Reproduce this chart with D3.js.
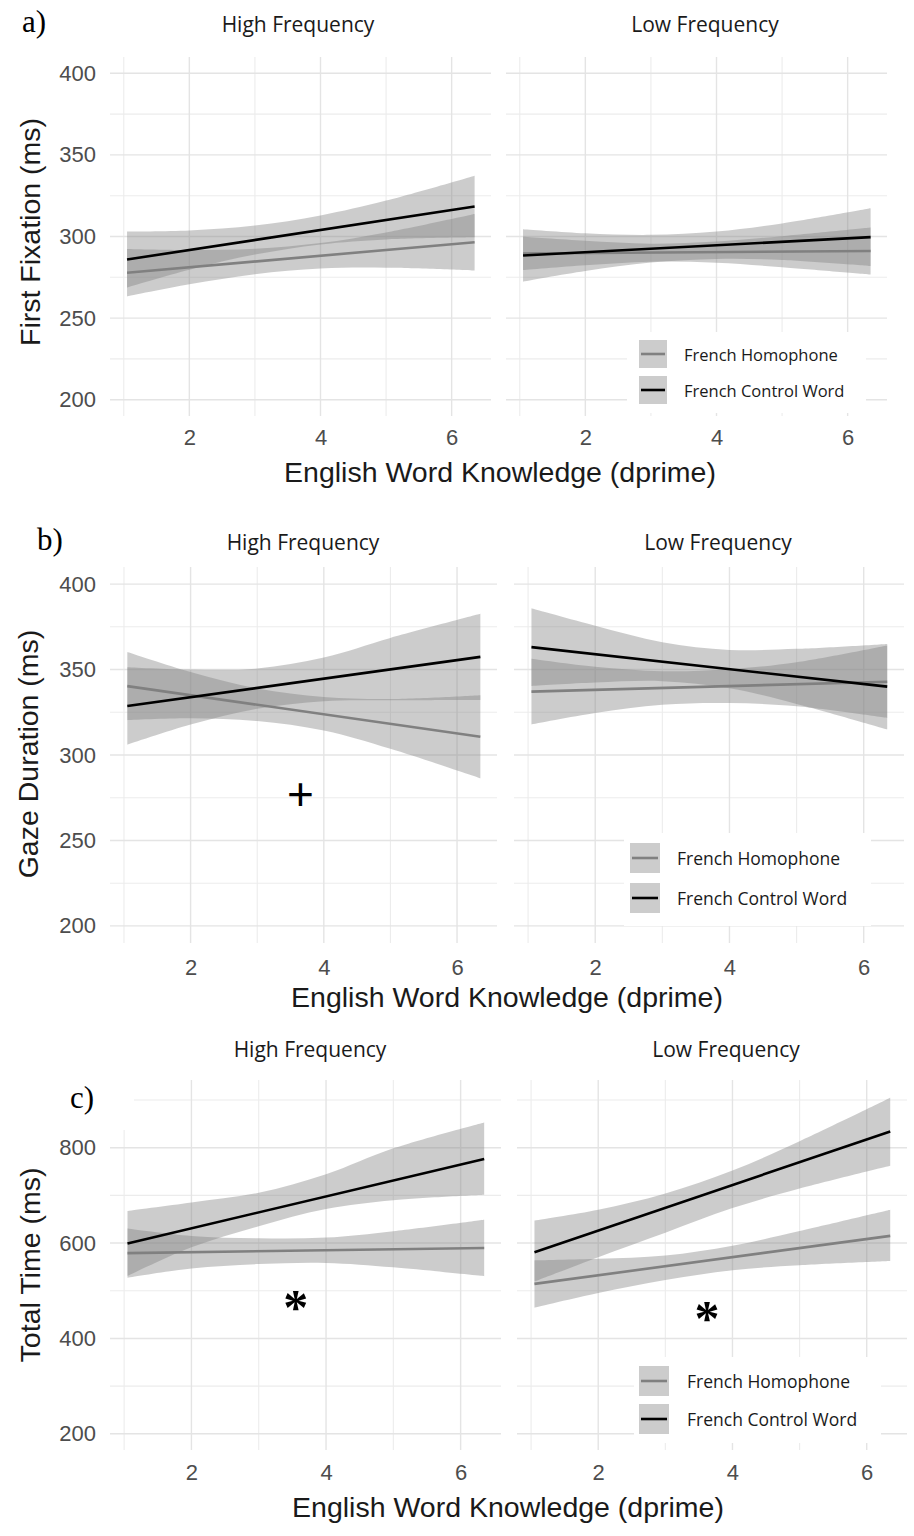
<!DOCTYPE html>
<html>
<head>
<meta charset="utf-8">
<script src="https://cdn.jsdelivr.net/npm/d3@7"></script>
<style>
  html, body { margin: 0; padding: 0; background: #fff; }
  svg { display: block; }
</style>
</head>
<body>
<svg id="fig" width="914" height="1536"></svg>
<script>
// ---- data -------------------------------------------------------------
// fitted lines are drawn between the two ends of the dprime range,
// confidence bands are sampled at a handful of dprime values
const fitX = [1.05, 6.35];
const bandX = [1.05, 2, 3, 4, 5, 6.35];
const facets = ["High Frequency", "Low Frequency"];
const seriesNames = ["French Homophone", "French Control Word"];
const xTickValues = [2, 4, 6];
const xMinorValues = [1, 3, 5];
const msTicks = [200, 250, 300, 350, 400];
const msMinor = [225, 275, 325, 375];
const totalTicks = [200, 400, 600, 800];
const totalMinor = [300, 500, 700, 900];

// a) First fixation
const ffHighHom = [277.8, 296.5];
const ffHighHomLo = [263.3, 270.7, 276.9, 280.4, 280.9, 279.2];
const ffHighHomHi = [292.3, 291.7, 292.5, 296.0, 302.5, 313.8];
const ffHighCtl = [285.9, 318.4];
const ffHighCtlLo = [268.8, 279.7, 288.9, 295.1, 298.2, 299.5];
const ffHighCtlHi = [303.0, 303.7, 306.7, 312.9, 322.0, 337.3];
const ffLowHom = [289.6, 291.1];
const ffLowHomLo = [279.4, 282.4, 284.6, 283.9, 281.2, 276.7];
const ffLowHomHi = [299.8, 297.4, 295.6, 296.9, 300.2, 305.5];
const ffLowCtl = [288.4, 299.6];
const ffLowCtlLo = [272.3, 278.8, 284.0, 286.2, 285.6, 281.9];
const ffLowCtlHi = [304.5, 302.0, 301.0, 303.0, 308.0, 317.3];

// b) Gaze duration
const gdHighHom = [340.3, 310.7];
const gdHighHomLo = [320.4, 321.5, 319.9, 314.3, 303.6, 286.4];
const gdHighHomHi = [360.2, 348.5, 338.9, 334.0, 332.8, 335.0];
const gdHighCtl = [328.7, 357.4];
const gdHighCtlLo = [306.0, 317.8, 327.0, 331.5, 332.0, 332.2];
const gdHighCtlHi = [351.4, 350.0, 350.6, 357.0, 368.5, 382.6];
const gdLowHom = [337.1, 342.9];
const gdLowHomLo = [317.9, 324.6, 329.4, 330.4, 328.5, 321.7];
const gdLowHomHi = [356.3, 351.6, 349.0, 350.2, 354.3, 364.1];
const gdLowCtl = [363.1, 340.0];
const gdLowCtlLo = [340.4, 342.4, 343.2, 339.1, 329.9, 315.0];
const gdLowCtlHi = [385.8, 375.6, 366.0, 361.5, 362.1, 365.0];

// c) Total time
const ttHighHom = [578.9, 589.8];
const ttHighHomLo = [527.2, 546.8, 556.0, 558.4, 549.2, 530.6];
const ttHighHomHi = [630.6, 615.0, 610.0, 611.6, 625.0, 649.0];
const ttHighCtl = [599.3, 776.2];
const ttHighCtlLo = [531.0, 591.2, 635.4, 671.4, 689.8, 701.4];
const ttHighCtlHi = [667.3, 685.0, 705.4, 744.2, 798.6, 853.1];
const ttLowHom = [514.4, 615.1];
const ttLowHomLo = [464.4, 495.2, 522.6, 543.2, 553.4, 562.3];
const ttLowHomHi = [563.7, 567.1, 574.0, 594.5, 625.3, 669.9];
const ttLowCtl = [580.8, 834.2];
const ttLowCtlLo = [519.2, 570.5, 621.9, 673.3, 714.4, 762.3];
const ttLowCtlHi = [647.3, 669.9, 704.1, 752.0, 813.7, 904.8];

// significance marks: [row, facet, dprime, ms, symbol]
const marks = [
  [1, 0, 3.65, 277, "+"],
  [2, 0, 3.55, 466, "*"],
  [2, 1, 3.62, 443, "*"]
];

// ---- figure assembly --------------------------------------------------
const rows = [
  { tag: "a)", yTitle: "First Fixation (ms)", ticks: msTicks, minor: msMinor, domain: [190, 410],
    facets: [[[ffHighHom, ffHighHomLo, ffHighHomHi], [ffHighCtl, ffHighCtlLo, ffHighCtlHi]],
             [[ffLowHom, ffLowHomLo, ffLowHomHi], [ffLowCtl, ffLowCtlLo, ffLowCtlHi]]] },
  { tag: "b)", yTitle: "Gaze Duration (ms)", ticks: msTicks, minor: msMinor, domain: [190, 410],
    facets: [[[gdHighHom, gdHighHomLo, gdHighHomHi], [gdHighCtl, gdHighCtlLo, gdHighCtlHi]],
             [[gdLowHom, gdLowHomLo, gdLowHomHi], [gdLowCtl, gdLowCtlLo, gdLowCtlHi]]] },
  { tag: "c)", yTitle: "Total Time (ms)", ticks: totalTicks, minor: totalMinor, domain: [166, 942],
    facets: [[[ttHighHom, ttHighHomLo, ttHighHomHi], [ttHighCtl, ttHighCtlLo, ttHighCtlHi]],
             [[ttLowHom, ttLowHomLo, ttLowHomHi], [ttLowCtl, ttLowCtlLo, ttLowCtlHi]]] }
];

// page geometry of each row
const layout = [
  { top: 57, bottom: 416, panels: [[110, 491], [506, 887]], stripY: 32, stripX: [298, 705],
    tickY: 437, xTitle: [500, 482], yTitle: [30, 232], tag: [22, 32],
    legend: { box: [627, 332, 239, 81], keyX: 639, keyY: [340, 376], key: 28, textX: 684, fs: 16.5 } },
  { top: 567, bottom: 943, panels: [[110, 497], [514, 904]], stripY: 550, stripX: [303, 718],
    tickY: 967, xTitle: [507, 1007], yTitle: [28, 754], tag: [37, 550],
    legend: { box: [624, 833, 247, 93], keyX: 630, keyY: [843, 883], key: 30, textX: 677, fs: 17.5 } },
  { top: 1080, bottom: 1450, panels: [[110, 501], [517, 907]], stripY: 1057, stripX: [310, 726],
    tickY: 1472, xTitle: [508, 1517], yTitle: [30, 1265], tag: [70, 1108],
    legend: { box: [634, 1357, 247, 86], keyX: 639, keyY: [1366, 1404], key: 30, textX: 687, fs: 17.5 } }
];

const BAND = "#7f7f7f", BAND_OP = 0.4;
const LINE = ["#808080", "#000000"];
const GRID = "#e4e4e4", GRID_MINOR = "#ececec";
const SANS = "'Liberation Sans', Arial, sans-serif";
const STRIP = "'Open Sans', Lato, sans-serif";
const SERIF = "'Liberation Serif', 'Times New Roman', serif";

const svg = d3.select("#fig");
svg.append("rect").attr("width", 914).attr("height", 1536).attr("fill", "#fff");

rows.forEach((row, r) => {
  const L = layout[r];
  const g = svg.append("g").attr("class", "row-" + r);
  const y = d3.scaleLinear().domain(row.domain).range([L.bottom, L.top]);

  row.facets.forEach((facet, f) => {
    const [x0, x1] = L.panels[f];
    const x = d3.scaleLinear().domain([0.79, 6.6]).range([x0, x1]);
    const p = g.append("g").attr("class", "panel");

    // grid
    p.selectAll("line.hmin").data(row.minor.filter(v => v > row.domain[0] && v < row.domain[1]))
      .join("line").attr("x1", x0).attr("x2", x1).attr("y1", d => y(d)).attr("y2", d => y(d))
      .attr("stroke", GRID_MINOR).attr("stroke-width", 1.1);
    p.selectAll("line.vmin").data(xMinorValues)
      .join("line").attr("x1", d => x(d)).attr("x2", d => x(d)).attr("y1", L.top).attr("y2", L.bottom)
      .attr("stroke", GRID_MINOR).attr("stroke-width", 1.1);
    p.selectAll("line.hmaj").data(row.ticks)
      .join("line").attr("x1", x0).attr("x2", x1).attr("y1", d => y(d)).attr("y2", d => y(d))
      .attr("stroke", GRID).attr("stroke-width", 1.4);
    p.selectAll("line.vmaj").data(xTickValues)
      .join("line").attr("x1", d => x(d)).attr("x2", d => x(d)).attr("y1", L.top).attr("y2", L.bottom)
      .attr("stroke", GRID).attr("stroke-width", 1.4);

    // confidence bands, then fitted lines
    const area = d3.area().x(d => x(d.x)).y0(d => y(d.lo)).y1(d => y(d.hi)).curve(d3.curveCatmullRom.alpha(0.5));
    const line = d3.line().x(d => x(d.x)).y(d => y(d.v));
    facet.forEach(([fit, lo, hi]) => {
      const band = bandX.map((bx, i) => ({ x: bx, lo: lo[i], hi: hi[i] }));
      p.append("path").attr("d", area(band)).attr("fill", BAND).attr("fill-opacity", BAND_OP);
    });
    facet.forEach(([fit], s) => {
      const pts = fitX.map((fx, i) => ({ x: fx, v: fit[i] }));
      p.append("path").attr("d", line(pts)).attr("fill", "none")
        .attr("stroke", LINE[s]).attr("stroke-width", 2.6);
    });

    // x tick labels
    const xa = p.append("g").attr("transform", `translate(0,${L.tickY})`)
      .call(d3.axisBottom(x).tickValues(xTickValues).tickSize(0).tickFormat(d3.format("d")));
    xa.select(".domain").remove();
    xa.selectAll("text").attr("y", 0).attr("dy", "0.35em")
      .attr("font-family", SANS).attr("font-size", 22).attr("fill", "#4d4d4d");

    // y tick labels on the left facet only
    if (f === 0) {
      const ya = p.append("g").attr("transform", `translate(${x0},0)`)
        .call(d3.axisLeft(y).tickValues(row.ticks).tickSize(0).tickPadding(14).tickFormat(d3.format("d")));
      ya.select(".domain").remove();
      ya.selectAll("text").attr("font-family", SANS).attr("font-size", 22).attr("fill", "#4d4d4d");
    }

    // facet strip
    g.append("text").attr("x", L.stripX[f]).attr("y", L.stripY).attr("text-anchor", "middle")
      .attr("font-family", STRIP).attr("font-size", 21).attr("fill", "#1a1a1a").text(facets[f]);

    // significance marks
    marks.filter(m => m[0] === r && m[1] === f).forEach(m => {
      if (m[4] === "+") {
        g.append("text").attr("x", x(m[2])).attr("y", y(m[3])).attr("text-anchor", "middle")
          .attr("dominant-baseline", "central").attr("font-family", SANS).attr("font-size", 46)
          .attr("fill", "#000").text(m[4]);
      } else {
        g.append("text").attr("x", x(m[2])).attr("y", y(m[3]) + 17).attr("text-anchor", "middle")
          .attr("font-family", SERIF).attr("font-weight", "bold").attr("font-size", 50)
          .attr("fill", "#000").text(m[4]);
      }
    });

    // legend in the right facet
    if (f === 1) {
      const lg = L.legend;
      const leg = g.append("g").attr("class", "legend");
      leg.append("rect").attr("x", lg.box[0]).attr("y", lg.box[1]).attr("width", lg.box[2])
        .attr("height", lg.box[3]).attr("fill", "#fff");
      seriesNames.forEach((name, s) => {
        const ky = lg.keyY[s];
        leg.append("rect").attr("x", lg.keyX).attr("y", ky).attr("width", lg.key).attr("height", lg.key)
          .attr("fill", BAND).attr("fill-opacity", BAND_OP);
        leg.append("line").attr("x1", lg.keyX + 2).attr("x2", lg.keyX + lg.key - 2)
          .attr("y1", ky + lg.key / 2).attr("y2", ky + lg.key / 2)
          .attr("stroke", LINE[s]).attr("stroke-width", 2.6);
        leg.append("text").attr("x", lg.textX).attr("y", ky + lg.key / 2).attr("dominant-baseline", "central")
          .attr("font-family", STRIP).attr("font-size", lg.fs).attr("fill", "#1a1a1a").text(name);
      });
    }
  });

  // axis titles
  g.append("text").attr("x", L.xTitle[0]).attr("y", L.xTitle[1]).attr("text-anchor", "middle")
    .attr("font-family", SANS).attr("font-size", 28.5).attr("fill", "#1a1a1a")
    .text("English Word Knowledge (dprime)");
  g.append("text").attr("transform", `translate(${L.yTitle[0]},${L.yTitle[1]}) rotate(-90)`)
    .attr("text-anchor", "middle").attr("dominant-baseline", "central")
    .attr("font-family", SANS).attr("font-size", 28.5).attr("fill", "#1a1a1a").text(row.yTitle);

  // row tag
  if (r === 2) {
    g.append("rect").attr("x", 60).attr("y", 1076).attr("width", 74).attr("height", 54).attr("fill", "#fff");
  }
  g.append("text").attr("x", L.tag[0]).attr("y", L.tag[1]).attr("font-family", SERIF)
    .attr("font-size", 31).attr("fill", "#000").text(row.tag);
});
</script>
</body>
</html>
